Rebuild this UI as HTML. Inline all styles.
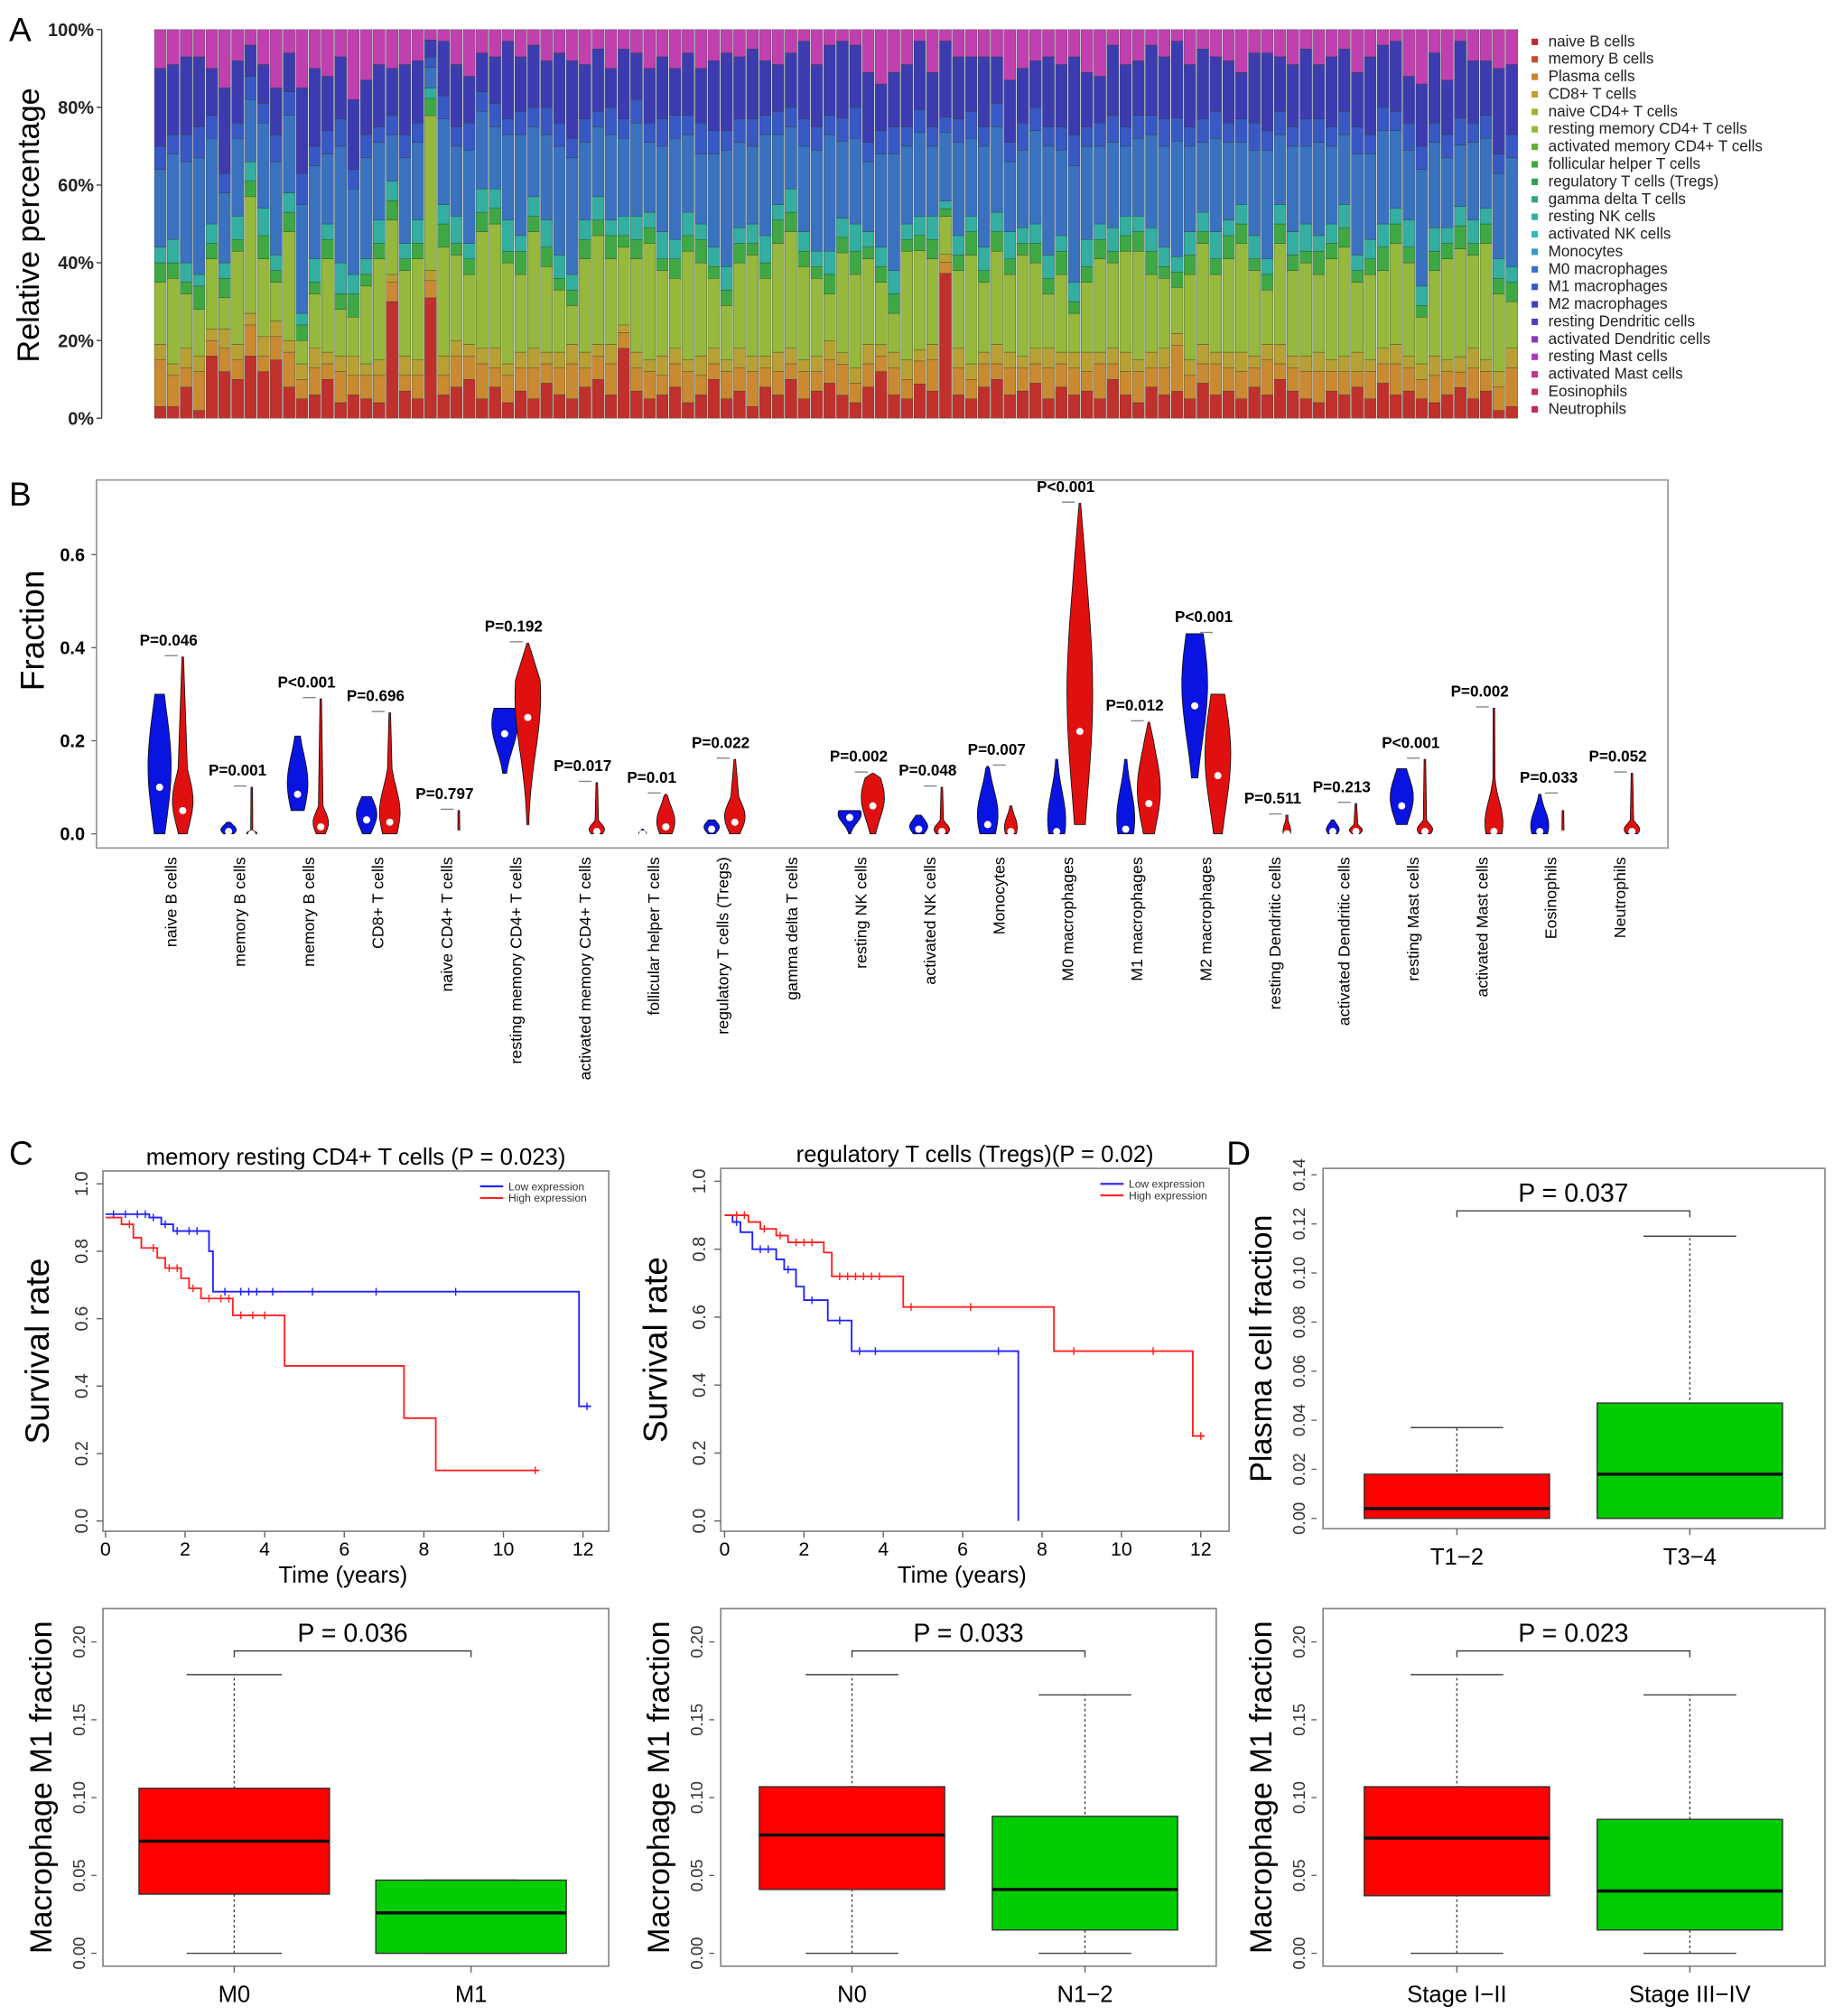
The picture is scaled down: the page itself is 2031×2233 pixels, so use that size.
<!DOCTYPE html>
<html><head><meta charset="utf-8"><style>
html,body{margin:0;padding:0;background:#fff}
svg{display:block}
text{font-family:"Liberation Sans",sans-serif}
</style></head><body>
<svg id="fig" width="2031" height="2233" viewBox="0 0 1425 1566.7" xmlns="http://www.w3.org/2000/svg"></svg>
<script>
// ---------- Panel A data ----------
const aNaiveB=[.03,.03,.08,.02,.16,.12,.10,.16,.12,.15,.08,.05,.06,.10,.04,.06,.05,.04,.30,.07,.05,.35,.06,.08,.10,.05,.08,.04,.07,.05,.09,.06,.05,.08,.10,.06,.18,.07,.05,.06,.08,.04,.06,.10,.05,.07,.03,.08,.06,.10,.05,.07,.09,.06,.04,.08,.12,.06,.05,.09,.07,.38,.06,.05,.08,.10,.06,.07,.09,.05,.08,.06,.07,.05,.10,.06,.04,.08,.06,.07,.05,.09,.06,.07,.05,.08,.06,.10,.07,.05,.04,.07,.06,.08,.05,.09,.06,.07,.05,.04,.06,.08,.05,.07,.02,.03];
const aPlasma=[.12,.08,.05,.10,.04,.06,.05,.08,.04,.06,.09,.05,.07,.04,.08,.05,.06,.07,.05,.04,.06,.05,.05,.08,.06,.09,.05,.07,.06,.08,.05,.07,.09,.05,.06,.08,.04,.06,.07,.05,.06,.08,.05,.04,.07,.06,.09,.05,.06,.04,.07,.05,.06,.08,.05,.06,.04,.07,.05,.06,.08,.03,.07,.05,.06,.04,.07,.06,.05,.08,.06,.07,.05,.09,.04,.06,.08,.05,.07,.12,.06,.05,.08,.06,.07,.05,.09,.04,.06,.07,.08,.05,.06,.04,.07,.05,.08,.06,.05,.07,.06,.04,.08,.05,.06,.10];
const aCD8=[.04,.03,.05,.04,.03,.05,.04,.03,.05,.04,.03,.04,.05,.03,.04,.05,.03,.04,.02,.05,.04,.03,.05,.04,.03,.04,.05,.03,.04,.05,.03,.04,.05,.04,.03,.05,.02,.04,.03,.05,.04,.03,.05,.04,.03,.05,.04,.03,.05,.04,.03,.04,.05,.03,.04,.05,.03,.04,.05,.03,.04,.02,.05,.04,.03,.05,.04,.03,.04,.05,.03,.04,.05,.03,.04,.05,.03,.04,.05,.03,.04,.05,.03,.04,.05,.03,.04,.05,.03,.04,.05,.03,.04,.05,.03,.04,.05,.03,.04,.05,.03,.04,.05,.03,.04,.05];
const aRestCD4=[.16,.22,.14,.12,.18,.08,.24,.30,.20,.10,.28,.06,.14,.24,.12,.10,.20,.26,.14,.22,.26,.45,.28,.22,.18,.30,.32,.26,.20,.30,.22,.16,.10,.24,.28,.22,.20,.24,.30,.22,.18,.28,.24,.18,.14,.22,.26,.20,.28,.30,.24,.20,.12,.26,.24,.22,.16,.10,.28,.26,.22,.10,.20,.28,.18,.24,.20,.26,.22,.14,.20,.10,.18,.24,.22,.26,.28,.20,.18,.12,.22,.26,.20,.24,.28,.22,.14,.26,.22,.24,.20,.26,.28,.18,.22,.20,.26,.24,.12,.22,.26,.28,.24,.30,.20,.12];
const aTGreen=[.05,.04,.03,.06,.04,.05,.03,.04,.06,.03,.05,.04,.03,.05,.04,.06,.03,.04,.05,.03,.04,.05,.06,.03,.04,.05,.04,.03,.06,.04,.05,.03,.04,.05,.04,.06,.03,.05,.04,.03,.05,.04,.06,.03,.04,.05,.03,.04,.06,.05,.04,.03,.05,.04,.06,.03,.04,.05,.03,.04,.05,.02,.04,.06,.03,.05,.04,.03,.05,.04,.06,.03,.04,.05,.03,.04,.05,.06,.03,.04,.05,.03,.04,.06,.05,.03,.04,.05,.04,.03,.06,.04,.05,.03,.04,.06,.05,.04,.03,.05,.04,.06,.03,.05,.04,.05];
const aNK=[.04,.06,.05,.03,.05,.04,.06,.05,.07,.04,.05,.03,.06,.04,.08,.05,.04,.06,.05,.04,.06,.03,.05,.07,.04,.06,.05,.08,.04,.05,.07,.06,.04,.05,.06,.04,.05,.06,.04,.07,.05,.06,.04,.05,.06,.04,.05,.07,.04,.06,.05,.04,.06,.05,.07,.04,.05,.06,.04,.05,.06,.02,.05,.04,.06,.05,.07,.04,.05,.06,.04,.05,.07,.04,.06,.05,.04,.06,.05,.04,.06,.05,.07,.04,.05,.06,.04,.05,.06,.07,.04,.05,.06,.04,.05,.06,.04,.07,.05,.06,.04,.05,.06,.04,.05,.04];
const aM0=[.20,.22,.26,.30,.22,.18,.20,.16,.22,.24,.20,.28,.24,.18,.30,.22,.26,.20,.12,.22,.20,.06,.22,.18,.24,.20,.16,.22,.26,.18,.22,.28,.30,.20,.18,.22,.20,.24,.18,.22,.26,.20,.18,.24,.30,.22,.20,.26,.18,.16,.22,.26,.30,.20,.22,.18,.24,.30,.20,.22,.18,.18,.24,.20,.26,.22,.18,.20,.24,.28,.22,.30,.24,.20,.22,.18,.20,.24,.26,.30,.22,.18,.24,.20,.16,.22,.28,.18,.22,.20,.24,.20,.18,.26,.22,.24,.20,.18,.30,.22,.18,.16,.20,.18,.22,.28];
const aM1=[.06,.05,.07,.08,.06,.05,.04,.06,.05,.07,.06,.08,.05,.06,.07,.05,.06,.04,.05,.06,.05,.03,.06,.05,.07,.05,.06,.04,.06,.05,.07,.06,.05,.06,.04,.07,.05,.06,.05,.07,.06,.05,.08,.06,.05,.06,.07,.05,.06,.05,.07,.06,.05,.06,.08,.05,.06,.07,.05,.06,.05,.04,.06,.07,.05,.06,.05,.07,.06,.05,.06,.08,.05,.06,.07,.05,.06,.05,.07,.06,.05,.06,.07,.05,.06,.07,.05,.06,.05,.07,.06,.05,.06,.07,.05,.06,.05,.07,.06,.05,.06,.07,.05,.06,.05,.06];
const aM2=[.20,.18,.20,.18,.12,.22,.16,.08,.10,.12,.10,.22,.20,.14,.16,.18,.14,.16,.12,.18,.16,.05,.14,.16,.12,.10,.12,.20,.14,.16,.12,.18,.20,.14,.16,.10,.18,.12,.14,.16,.12,.16,.14,.18,.20,.16,.18,.14,.12,.14,.20,.16,.18,.20,.16,.18,.12,.14,.16,.18,.14,.20,.16,.14,.18,.12,.16,.14,.12,.18,.16,.20,.14,.12,.18,.16,.14,.18,.16,.20,.16,.18,.14,.16,.12,.18,.20,.14,.16,.18,.14,.18,.16,.14,.20,.16,.18,.12,.16,.18,.14,.20,.16,.14,.22,.18];
const legendNames=["naive B cells","memory B cells","Plasma cells","CD8+ T cells","naive CD4+ T cells","resting memory CD4+ T cells","activated memory CD4+ T cells","follicular helper T cells","regulatory T cells (Tregs)","gamma delta T cells","resting NK cells","activated NK cells","Monocytes","M0 macrophages","M1 macrophages","M2 macrophages","resting Dendritic cells","activated Dendritic cells","resting Mast cells","activated Mast cells","Eosinophils","Neutrophils"];
const aTicks=["0%","20%","40%","60%","80%","100%"];

// ---------- Panel B data ----------
const bCats=["naive B cells","memory B cells","memory B cells","CD8+ T cells","naive CD4+ T cells","resting memory CD4+ T cells","activated memory CD4+ T cells","follicular helper T cells","regulatory T cells (Tregs)","gamma delta T cells","resting NK cells","activated NK cells","Monocytes","M0 macrophages","M1 macrophages","M2 macrophages","resting Dendritic cells","activated Dendritic cells","resting Mast cells","activated Mast cells","Eosinophils","Neutrophils"];
const bPvals=["P=0.046","P=0.001","P<0.001","P=0.696","P=0.797","P=0.192","P=0.017","P=0.01","P=0.022","","P=0.002","P=0.048","P=0.007","P<0.001","P=0.012","P<0.001","P=0.511","P=0.213","P<0.001","P=0.002","P=0.033","P=0.052"];
const blueMin=[0,0,.05,0,0,.13,0,0,0,0,0,0,0,0,0,.12,0,0,.02,0,0,0];
const blueMed=[.10,.005,.085,.03,0,.215,0,0,.01,0,.035,.01,.02,.005,.01,.275,0,.005,.06,0,.005,0];
const blueBody=[.30,.025,.21,.08,.005,.27,0,.01,.03,0,.05,.04,.14,.16,.16,.43,.003,.03,.14,0,.085,0];
const blueMax=[.30,.025,.21,.08,.005,.27,0,.01,.03,0,.05,.04,.145,.16,.16,.43,.003,.03,.14,0,.085,0];
const blueWid=[9,6,8,8,2,10,0,3,6,0,9,7,8,7,7,10,2,5,9,0,7,0];
const redMin=[0,0,0,0,0,.02,0,0,0,0,0,0,0,.02,0,0,0,0,0,0,0,0];
const redMed=[.05,0,.015,.025,0,.25,.005,.015,.025,0,.06,.005,.005,.22,.065,.125,0,.005,.005,.005,0,.005];
const redBody=[.14,.01,.06,.14,.005,.33,.03,.08,.08,0,.12,.03,.06,.58,.20,.30,.04,.02,.03,.12,.01,.03];
const redMax=[.38,.10,.29,.26,.05,.41,.11,.085,.16,0,.13,.10,.06,.71,.24,.30,.04,.065,.16,.27,.05,.13];
const redWid=[8,4,6,8,2,10,6,7,8,0,9,6,5,10,9,10,3,5,6,7,2,6];
const bTicks=[0,0.2,0.4,0.6];

// ---------- Panel C data ----------
const km1LowT=[0,1.1,1.4,1.7,2.6,2.7,11.9,12.2];
const km1LowS=[.91,.90,.88,.86,.80,.68,.34,.34];
const km1LowCens=[.2,.5,.8,1.0,1.2,1.5,1.8,2.1,2.3,3.0,3.4,3.6,3.8,4.2,5.2,6.8,8.8,12.1];
const km1HighT=[0,.4,.7,.9,1.3,1.5,1.9,2.1,2.4,3.2,4.5,7.5,8.3,10.9];
const km1HighS=[.90,.88,.84,.81,.78,.75,.72,.69,.66,.61,.46,.305,.15,.15];
const km1HighCens=[.6,1.2,1.6,1.8,2.2,2.6,2.9,3.1,3.4,3.7,4.0,10.8];
const km2LowT=[0,.2,.4,.7,1.3,1.5,1.8,2.0,2.6,3.2,7.4,7.4];
const km2LowS=[.90,.88,.85,.80,.77,.74,.69,.65,.59,.50,.50,0];
const km2LowCens=[.3,.9,1.1,1.6,2.2,2.9,3.4,3.8,6.9];
const km2HighT=[0,.6,.9,1.3,1.6,2.5,2.7,4.5,8.3,11.8,12.1];
const km2HighS=[.90,.88,.86,.84,.82,.79,.72,.63,.50,.25,.25];
const km2HighCens=[.3,.5,1.0,1.4,1.8,2.0,2.2,2.9,3.1,3.3,3.5,3.7,3.9,4.7,6.2,8.8,10.8,12.0];
const kmXTicks=[0,2,4,6,8,10,12];
const kmYTicks=[0,0.2,0.4,0.6,0.8,1.0];

// ---------- Panel D data ----------
const dPlasmaStats=[[0,0,.004,.018,.037],[0,0,.018,.047,.115]];
const dPlasmaCats=["T1\u22122","T3\u22124"];
const dPlasmaTicks=[0,.02,.04,.06,.08,.10,.12,.14];
const dM1aStats=[[0,.038,.072,.106,.179],[0,0,.026,.047,.047]];
const dM1aCats=["M0","M1"];
const dM1bStats=[[0,.041,.076,.107,.179],[0,.015,.041,.088,.166]];
const dM1bCats=["N0","N1\u22122"];
const dM1cStats=[[0,.037,.074,.107,.179],[0,.015,.040,.086,.166]];
const dM1cCats=["Stage I\u2212II","Stage III\u2212IV"];
const dM1Ticks=[0,.05,.10,.15,.20];

const NS="http://www.w3.org/2000/svg";
const svg=document.getElementById('fig');
function mk(tag,attrs,parent){const e=document.createElementNS(NS,tag);for(const k in attrs)e.setAttribute(k,attrs[k]);(parent||svg).appendChild(e);return e;}
function txt(s,attrs,parent){const e=mk('text',attrs,parent);e.textContent=s;return e;}

// ================= Panel A =================
const gA=mk('g',{});


let t=txt('A',{x:7,y:32,'font-size':26});


const aX0=120,aX1=1180,aY0=325,aY1=23;
const ay=v=>aY0-(aY0-aY1)*v;
let ln=mk('line',{x1:79,y1:aY1,x2:79,y2:aY0,stroke:'#444','stroke-width':1},gA);


aTicks.forEach((s,i)=>{const v=i/5;
 const tk=mk('line',{x1:75,x2:79,y1:ay(v),y2:ay(v),stroke:'#444'},gA);
 
 
 const tl=txt(s,{x:73,y:ay(v)+5,'font-size':14,'font-weight':'bold','text-anchor':'end',fill:'#222'},gA);
 
 });
t=txt('Relative percentage',{x:0,y:0,'font-size':24,'text-anchor':'middle',transform:'translate(30,175) rotate(-90)'},gA);


const segCols=['#c0302c','#c98a32','#b8a034','#96b83c','#3fa844','#33aea0','#3a72c0','#3858c4','#3c3cb0','#c040b0'];
const N=aNaiveB.length,bw=(aX1-aX0)/N;
for(let i=0;i<N;i++){
 const vals=[aNaiveB[i],aPlasma[i],aCD8[i],aRestCD4[i],aTGreen[i],aNK[i],aM0[i],aM1[i],aM2[i]];
 let s=vals.reduce((a,b)=>a+b,0);const sc=1/Math.max(1,s+0.03);
 const all=vals.map(v=>v*sc);all.push(1-all.reduce((a,b)=>a+b,0));
 let acc=0;
 all.forEach((v,k)=>{const r=mk('rect',{x:aX0+i*bw,y:ay(acc+v),width:bw-0.8,height:(aY0-aY1)*v,fill:segCols[k],stroke:'#2a3a2a','stroke-width':0.25},gA);
  
  
  acc+=v;});
}
const legCols=['#c0282d','#cc4a2a','#c8842c','#c0a030','#a8b030','#94b83a','#66b030','#40a840','#30a050','#30a878','#30b0a0','#30b8c0','#3898c8','#3a70c0','#3858c0','#4040b8','#5838b8','#8838b8','#b038b8','#c0309a','#c03070','#c02850'];
legendNames.forEach((nm,i)=>{const y=35+i*13.6;
 const sq=mk('rect',{x:1190,y:y-5,width:5,height:5,fill:legCols[i]},gA);
 
 
 const lt=txt(nm,{x:1203,y:y+1,'font-size':12,fill:'#222'},gA);
 
 });

// ================= Panel B =================
const gB=mk('g',{});


t=txt('B',{x:7,y:393,'font-size':26});


const bY0=648,bPer=(648-431)/0.6;
const by=v=>bY0-v*bPer;
const bxc=i=>133+i*(1259-133)/21;
let fr=mk('rect',{x:75,y:373,width:1221,height:286,fill:'none',stroke:'#999','stroke-width':1.2},gB);


bTicks.forEach(v=>{const tk=mk('line',{x1:71,x2:75,y1:by(v),y2:by(v),stroke:'#666'},gB);
 
 
 const tl=txt(v.toFixed(1),{x:66,y:by(v)+5,'font-size':14,'font-weight':'bold','text-anchor':'end'},gB);
 
 });
t=txt('Fraction',{x:0,y:0,'font-size':26,'text-anchor':'middle',transform:'translate(34,490) rotate(-90)'},gB);


function violin(cx,mn,md,body,mx,w,col,name){
 if(w<=0)return;
 const yb=by(mn),yt=by(body),ym=by(mx);
 const h=Math.max(yb-yt,1);
 const peak=yb-(yb-by(md))*1.0-0.15*h;
 let left=[],right=[];
 const n=16;
 for(let k=0;k<=n;k++){const yy=yb-h*k/n;const d=(yy-peak)/(h*0.6);const ww=Math.max(w*Math.exp(-d*d*1.2),0.8);left.push([cx-ww,yy]);right.push([cx+ww,yy]);}
 let d='M'+cx+','+yb;
 right.forEach(p=>d+=' L'+p[0].toFixed(1)+','+p[1].toFixed(1));
 d+=' L'+(cx+0.6)+','+ym+' L'+(cx-0.6)+','+ym;
 left.reverse().forEach(p=>d+=' L'+p[0].toFixed(1)+','+p[1].toFixed(1));
 d+='Z';
 const p=mk('path',{d:d,fill:col,stroke:'#111','stroke-width':0.6},gB);
 
 
 const c=mk('circle',{cx:cx,cy:by(md),r:2.8,fill:'#fff'},gB);
 
 
}
bCats.forEach((nm,i)=>{const cx=bxc(i);
 violin(cx-9,blueMin[i],blueMed[i],blueBody[i],blueMax[i],blueWid[i],'#0a14e0','violin-low');
 violin(cx+9,redMin[i],redMed[i],redBody[i],redMax[i],redWid[i],'#e01010','violin-high');
 if(bPvals[i]){const top=Math.max(blueMax[i],redMax[i]);
  const br=mk('line',{x1:cx-5,x2:cx+5,y1:by(top)-1,y2:by(top)-1,stroke:'#888'},gB);
  
  
  const pl=txt(bPvals[i],{x:cx-2,y:by(top)-9,'font-size':12,'font-weight':'bold','text-anchor':'middle'},gB);
  
  }
 const xl=txt(nm,{x:0,y:0,'font-size':12.5,'text-anchor':'end',transform:`translate(${cx+4},666) rotate(-90)`},gB);
 
 
});

// ================= Panel C =================
t=txt('C',{x:7,y:905,'font-size':26});


t=txt('D',{x:953,y:905,'font-size':26});


function kmPlot(o){
 const g=mk('g',{});
 
 
 const X=v=>o.x0+(o.x12-o.x0)*v/12, Y=v=>o.y0-(o.y0-o.y1)*v;
 const f=mk('rect',{x:o.bx,y:o.by,width:o.bwid,height:o.bh,fill:'none',stroke:'#888','stroke-width':1.2},g);
 
 
 kmXTicks.forEach(v=>{const tk=mk('line',{x1:X(v),x2:X(v),y1:o.by+o.bh,y2:o.by+o.bh+5,stroke:'#666'},g);
  
  
  const tl=txt(String(v),{x:X(v),y:o.by+o.bh+19,'font-size':15,'text-anchor':'middle'},g);
  
  });
 kmYTicks.forEach(v=>{const tk=mk('line',{x1:o.bx-5,x2:o.bx,y1:Y(v),y2:Y(v),stroke:'#666'},g);
  
  
  const tl=txt(v.toFixed(1),{x:0,y:0,'font-size':14,'text-anchor':'middle',fill:'#333',transform:`translate(${o.bx-12},${Y(v)}) rotate(-90)`},g);
  
  });
 let tt=txt(o.title,{x:o.bx+o.bwid/2,y:o.by-5,'font-size':18,'text-anchor':'middle'},g);
 
 
 tt=txt('Time (years)',{x:o.bx+o.bwid/2-10,y:o.by+o.bh+40,'font-size':18,'text-anchor':'middle'},g);
 
 
 tt=txt('Survival rate',{x:0,y:0,'font-size':26,'text-anchor':'middle',transform:`translate(${o.bx-42},${o.by+o.bh/2}) rotate(-90)`},g);
 
 
 [[o.lowT,o.lowS,o.lowC,'#2020ff','km-curve-low'],[o.highT,o.highS,o.highC,'#ff2020','km-curve-high']].forEach(([T,S,C,col,nm])=>{
  let d='M'+X(T[0])+','+Y(S[0]);
  for(let k=1;k<T.length;k++){d+=' H'+X(T[k]).toFixed(1)+' V'+Y(S[k]).toFixed(1);}
  const p=mk('path',{d:d,fill:'none',stroke:col,'stroke-width':1.3},g);
  
  
  C.forEach(c=>{let s=S[0];for(let k=0;k<T.length;k++){if(T[k]<=c)s=S[k];}
   const m=mk('line',{x1:X(c),x2:X(c),y1:Y(s)-3,y2:Y(s)+3,stroke:col,'stroke-width':1},g);
   
   });
 });
 const lx=o.bx+o.bwid-100,ly=o.by+12;
 [['Low expression','#2020ff'],['High expression','#ff2020']].forEach(([s,c],k)=>{
  const l=mk('line',{x1:lx,x2:lx+18,y1:ly+k*9,y2:ly+k*9,stroke:c,'stroke-width':1.5},g);
  
  
  const lt=txt(s,{x:lx+22,y:ly+k*9+3,'font-size':8.5,fill:'#333'},g);
  
  });
}
kmPlot({name:'km-plot-cd4',title:'memory resting CD4+ T cells  (P = 0.023)',bx:80,by:910,bwid:393,bh:280,x0:82,x12:453,y0:1182,y1:920,lowT:km1LowT,lowS:km1LowS,lowC:km1LowCens,highT:km1HighT,highS:km1HighS,highC:km1HighCens});
kmPlot({name:'km-plot-tregs',title:'regulatory T cells (Tregs)(P = 0.02)',bx:560,by:908,bwid:395,bh:282,x0:563,x12:933,y0:1182,y1:918,lowT:km2LowT,lowS:km2LowS,lowC:km2LowCens,highT:km2HighT,highS:km2HighS,highC:km2HighCens});

// ================= Box plots =================
function boxPlot(o){
 const g=mk('g',{});
 
 
 const Y=v=>o.y0-(o.y0-o.yTop)*v/o.vTop;
 const f=mk('rect',{x:o.bx,y:o.by,width:o.bwid,height:o.bh,fill:'none',stroke:'#888','stroke-width':1.2},g);
 
 
 o.ticks.forEach(v=>{const tk=mk('line',{x1:o.bx-9,x2:o.bx-5,y1:Y(v),y2:Y(v),stroke:'#666'},g);
  
  
  const tl=txt(v.toFixed(2),{x:0,y:0,'font-size':13,'text-anchor':'middle',fill:'#333',transform:`translate(${o.bx-14},${Y(v)}) rotate(-90)`},g);
  
  });
 let tt=txt(o.ylab,{x:0,y:0,'font-size':24,'text-anchor':'middle',transform:`translate(${o.bx-40},${o.by+o.bh/2}) rotate(-90)`},g);
 
 
 const cols=['#ff0000','#00cc00'];
 o.stats.forEach((s,i)=>{const cx=o.cx[i],hw=o.hw;
  const w=mk('line',{x1:cx,x2:cx,y1:Y(s[0]),y2:Y(s[4]),stroke:'#444','stroke-dasharray':'2,2'},g);
  
  
  [s[0],s[4]].forEach(v=>{const c=mk('line',{x1:cx-hw/2,x2:cx+hw/2,y1:Y(v),y2:Y(v),stroke:'#444'},g);
   
   });
  const r=mk('rect',{x:cx-hw,y:Y(s[3]),width:hw*2,height:Y(s[1])-Y(s[3]),fill:cols[i],stroke:'#333'},g);
  
  
  const m=mk('line',{x1:cx-hw,x2:cx+hw,y1:Y(s[2]),y2:Y(s[2]),stroke:'#111','stroke-width':2.5},g);
  
  
  const tk=mk('line',{x1:cx,x2:cx,y1:o.by+o.bh,y2:o.by+o.bh+5,stroke:'#666'},g);
  
  
  const xl=txt(o.cats[i],{x:cx,y:o.by+o.bh+28,'font-size':18,'text-anchor':'middle'},g);
  
  
 });
 const py=o.by+33;
 const br=mk('path',{d:`M${o.cx[0]},${py+5} V${py} H${o.cx[1]} V${py+5}`,fill:'none',stroke:'#444'},g);
 
 
 const pl=txt(o.p,{x:(o.cx[0]+o.cx[1])/2,y:py-7,'font-size':20,'text-anchor':'middle'},g);
 
 
}
boxPlot({name:'d-plasma-boxplot',bx:1028,by:908,bwid:390,bh:280,y0:1180,yTop:913,vTop:.14,ticks:dPlasmaTicks,stats:dPlasmaStats,cats:dPlasmaCats,cx:[1132,1313],hw:72,ylab:'Plasma cell fraction',p:'P = 0.037'});
boxPlot({name:'m1-by-m-boxplot',bx:80,by:1250,bwid:393,bh:278,y0:1518,yTop:1276,vTop:.20,ticks:dM1Ticks,stats:dM1aStats,cats:dM1aCats,cx:[182,366],hw:74,ylab:'Macrophage M1 fraction',p:'P = 0.036'});
boxPlot({name:'m1-by-n-boxplot',bx:560,by:1250,bwid:385,bh:278,y0:1518,yTop:1276,vTop:.20,ticks:dM1Ticks,stats:dM1bStats,cats:dM1bCats,cx:[662,843],hw:72,ylab:'Macrophage M1 fraction',p:'P = 0.033'});
boxPlot({name:'m1-by-stage-boxplot',bx:1028,by:1250,bwid:390,bh:278,y0:1518,yTop:1276,vTop:.20,ticks:dM1Ticks,stats:dM1cStats,cats:dM1cCats,cx:[1132,1313],hw:72,ylab:'Macrophage M1 fraction',p:'P = 0.023'});
</script>
</body></html>
